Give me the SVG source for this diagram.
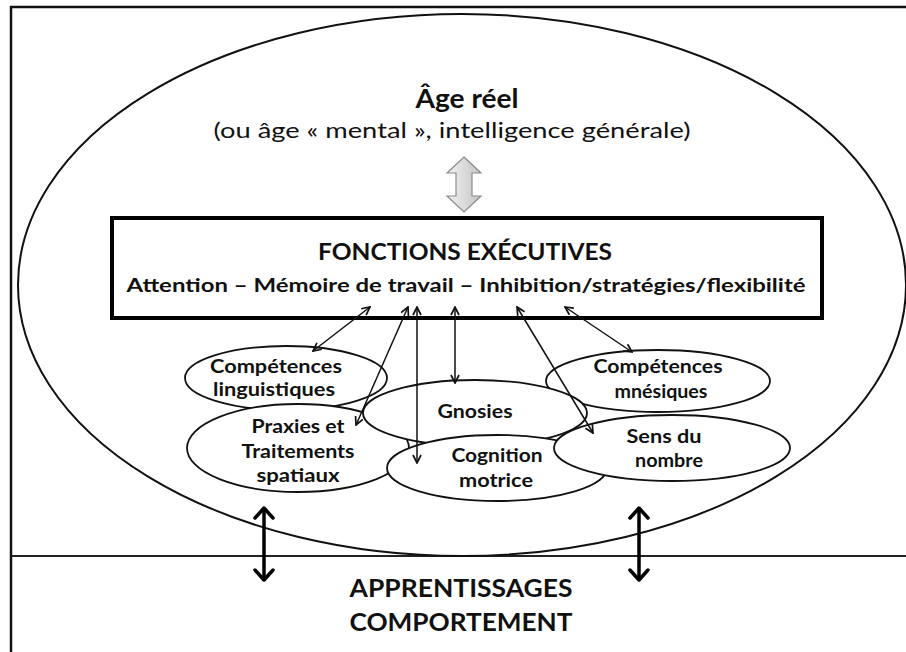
<svg xmlns="http://www.w3.org/2000/svg" width="906" height="652" viewBox="0 0 906 652">
<style>
text{font-family:Lato,"Open Sans","Liberation Sans",sans-serif;fill:#111;text-anchor:middle}
.b{font-weight:bold}
.lbl{font-size:19px;font-weight:bold}
.node{fill:#fff;stroke:#111;stroke-width:1.8}
.thin{stroke:#111;stroke-width:1.5;fill:none;marker-start:url(#ah);marker-end:url(#ah)}
.thick{stroke:#000;stroke-width:3.5;fill:none;marker-start:url(#ahb);marker-end:url(#ahb)}
</style>
<defs>
<marker id="ah" viewBox="0 0 10 10" refX="9" refY="5" markerWidth="10" markerHeight="10" markerUnits="userSpaceOnUse" orient="auto-start-reverse">
<path d="M1,1 L9,5 L1,9" fill="none" stroke="#111" stroke-width="1.7"/>
</marker>
<marker id="ahb" viewBox="0 0 14 22" refX="12" refY="11" markerWidth="14" markerHeight="22" markerUnits="userSpaceOnUse" orient="auto-start-reverse">
<path d="M2,2 L12,11 L2,20" fill="none" stroke="#000" stroke-width="3.5" stroke-linecap="round" stroke-linejoin="round"/>
</marker>
<linearGradient id="gg" x1="0" y1="0" x2="1" y2="0">
<stop offset="0" stop-color="#f2f2f2"/>
<stop offset="1" stop-color="#c4c4c4"/>
</linearGradient>
</defs>
<rect width="906" height="652" fill="#fff"/>
<g id="frame">
<path d="M11,652 L11,7 L906,7" fill="none" stroke="#111" stroke-width="2.5"/>
<line x1="11" y1="556" x2="906" y2="556" stroke="#222" stroke-width="2.2"/>
</g>
<g id="age-reel">
<ellipse cx="462" cy="285" rx="444" ry="271" fill="none" stroke="#111" stroke-width="2"/>
<text x="467" y="108" class="b" font-size="26" textLength="103" lengthAdjust="spacingAndGlyphs">Âge réel</text>
<text x="452" y="138" font-size="22" textLength="477" lengthAdjust="spacingAndGlyphs">(ou âge « mental », intelligence générale)</text>
</g>
<g id="fonctions-executives">
<rect x="112" y="218" width="710" height="100" fill="#fff" stroke="#000" stroke-width="4"/>
<text x="465" y="260" class="b" font-size="23" textLength="294" lengthAdjust="spacingAndGlyphs">FONCTIONS EXÉCUTIVES</text>
<text x="466" y="292" class="b" font-size="19" textLength="679" lengthAdjust="spacingAndGlyphs">Attention – Mémoire de travail – Inhibition/stratégies/flexibilité</text>
</g>
<g id="competences-linguistiques">
<ellipse class="node" cx="286" cy="378" rx="101" ry="32"/>
<text x="276" y="373" class="lbl" textLength="132" lengthAdjust="spacingAndGlyphs">Compétences</text>
<text x="274" y="396" class="lbl" textLength="122" lengthAdjust="spacingAndGlyphs">linguistiques</text>
</g>
<g id="competences-mnesiques">
<ellipse class="node" cx="658" cy="381" rx="112" ry="31"/>
<text x="658" y="373" class="lbl" textLength="129" lengthAdjust="spacingAndGlyphs">Compétences</text>
<text x="661" y="398" class="lbl" textLength="93" lengthAdjust="spacingAndGlyphs">mnésiques</text>
</g>
<g id="praxies">
<ellipse class="node" cx="298" cy="448" rx="111" ry="44"/>
<text x="298" y="433" class="lbl" textLength="93" lengthAdjust="spacingAndGlyphs">Praxies et</text>
<text x="298" y="458" class="lbl" textLength="113" lengthAdjust="spacingAndGlyphs">Traitements</text>
<text x="298" y="482" class="lbl" textLength="83" lengthAdjust="spacingAndGlyphs">spatiaux</text>
</g>
<g id="gnosies">
<ellipse class="node" cx="475" cy="413" rx="112" ry="33"/>
<text x="475" y="418" class="lbl" textLength="75" lengthAdjust="spacingAndGlyphs">Gnosies</text>
</g>
<g id="cognition-motrice">
<ellipse class="node" cx="497" cy="468" rx="110" ry="33"/>
<text x="497" y="462" class="lbl" textLength="91" lengthAdjust="spacingAndGlyphs">Cognition</text>
<text x="496" y="487" class="lbl" textLength="74" lengthAdjust="spacingAndGlyphs">motrice</text>
</g>
<g id="sens-du-nombre">
<ellipse class="node" cx="672" cy="448" rx="118" ry="33"/>
<text x="664" y="443" class="lbl" textLength="75" lengthAdjust="spacingAndGlyphs">Sens du</text>
<text x="669" y="467" class="lbl" textLength="68" lengthAdjust="spacingAndGlyphs">nombre</text>
</g>
<g id="apprentissages">
<text x="461" y="597" class="b" font-size="25" textLength="223" lengthAdjust="spacingAndGlyphs">APPRENTISSAGES</text>
<text x="461" y="631" class="b" font-size="25" textLength="223" lengthAdjust="spacingAndGlyphs">COMPORTEMENT</text>
</g>
<g id="connectors">
<polygon points="464,157 481,173 472,173 472,196 481,196 464,212 447,196 456,196 456,173 447,173" fill="url(#gg)" stroke="#8a8a8a" stroke-width="1.2" stroke-linejoin="miter"/>
<line class="thin" x1="370" y1="307" x2="313" y2="351"/>
<line class="thin" x1="408" y1="307" x2="356" y2="425"/>
<line class="thin" x1="417" y1="307" x2="417" y2="463"/>
<line class="thin" x1="455" y1="307" x2="455" y2="383"/>
<line class="thin" x1="517" y1="307" x2="593" y2="433"/>
<line class="thin" x1="565" y1="307" x2="632" y2="352"/>
<line class="thick" x1="264" y1="508" x2="264" y2="580"/>
<line class="thick" x1="639" y1="508" x2="639" y2="580"/>
</g>
</svg>
